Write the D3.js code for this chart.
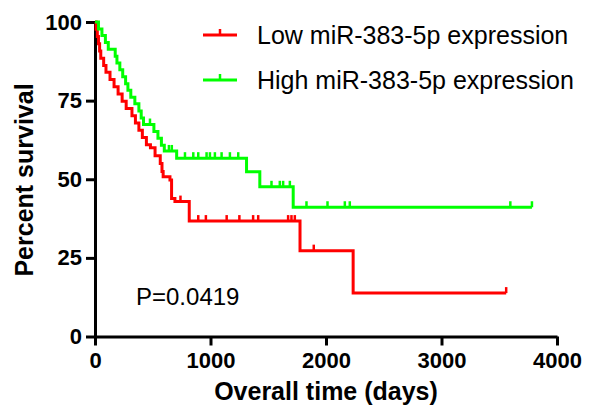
<!DOCTYPE html>
<html>
<head>
<meta charset="utf-8">
<script src="https://cdn.jsdelivr.net/npm/d3@7"></script>
<style>
  body { margin: 0; background: #fff; }
  text { font-family: Arial, "Liberation Sans", sans-serif; }
</style>
</head>
<body>
<div id="chart"></div>
<script>
// Kaplan-Meier steps: [days, percent survival]
var lowSteps = [[0,100],[10,97.7],[20,95.4],[30,93.1],[40,90.8],[50,88.5],[75,86.2],[95,84.0],
  [130,81.7],[165,79.4],[200,77.1],[235,74.8],[270,72.5],[320,70.2],[350,67.9],[380,65.6],
  [410,63.3],[445,61.0],[480,60.0],[520,57.5],[565,55.0],[580,52.5],[590,50.8],[649,49.8],
  [663,43.9],[692,42.9],[816,36.7],[1775,27.3],[2235,13.8],[3560,13.8]];
var highSteps = [[0,100],[30,97.8],[60,95.7],[90,93.5],[115,91.3],[175,89.1],[190,87.0],
  [215,84.8],[240,82.6],[265,80.4],[285,78.3],[310,76.1],[345,74.0],[380,71.7],[400,69.5],
  [420,67.4],[510,65.2],[545,63.0],[575,60.8],[600,59.0],[707,56.7],[1312,52.4],[1427,47.6],
  [1716,41.1],[3783,41.1]];

// censored observations (days, percent)
var lowCensor = [[740,42.9],[894,36.7],[960,36.7],[1140,36.7],[1250,36.7],[1369,36.7],[1413,36.7],
  [1672,36.7],[1701,36.7],[1730,36.7],[1894,27.3],[3560,13.8]];
var highCensor = [[476,67.4],[640,59.0],[665,59.0],[779,56.7],[851,56.7],[894,56.7],[966,56.7],
  [995,56.7],[1038,56.7],[1096,56.7],[1168,56.7],[1240,56.7],[1528,47.6],[1600,47.6],[1629,47.6],
  [1687,47.6],[1831,41.1],[2013,41.1],[2163,41.1],[2206,41.1],[3596,41.1],[3783,41.1]];

var xTicks = [0, 1000, 2000, 3000, 4000];
var yTicks = [0, 25, 50, 75, 100];
var seriesNames = ["Low miR-383-5p expression", "High miR-383-5p expression"];
var seriesColors = ["#ff0000", "#00ff00"];

var width = 590,
    height = 413;

var svg = d3.select("#chart")
            .append("svg")
              .attr("width", width)
              .attr("height", height);

var x = d3.scaleLinear().domain([0, 4000]).range([95, 557]);
var y = d3.scaleLinear().domain([0, 100]).range([336.5, 22]);

// axes
var yAxis = svg.append("g")
   .attr("transform", "translate(95,0)")
   .call(d3.axisLeft(y).tickValues(yTicks).tickSize(9).tickPadding(4).tickSizeOuter(0));
var xAxis = svg.append("g")
   .attr("transform", "translate(0,336.5)")
   .call(d3.axisBottom(x).tickValues(xTicks).tickFormat(d3.format("d"))
          .tickSize(9).tickPadding(7).tickSizeOuter(0));

[xAxis, yAxis].forEach(function(a) {
  a.select(".domain").attr("stroke", "#000").attr("stroke-width", 3);
  a.selectAll(".tick line").attr("stroke", "#000").attr("stroke-width", 3);
  a.selectAll(".tick text")
    .attr("fill", "#000")
    .style("font-size", "22px")
    .style("font-weight", "bold");
});

// curves
var line = d3.line()
             .x(function(d) { return x(d[0]); })
             .y(function(d) { return y(d[1]); })
             .curve(d3.curveStepAfter);

[lowSteps, highSteps].forEach(function(data, i) {
  svg.append("path")
     .datum(data)
     .attr("fill", "none")
     .attr("stroke", seriesColors[i])
     .attr("stroke-width", 3)
     .attr("d", line);
});

[lowCensor, highCensor].forEach(function(data, i) {
  svg.selectAll(".censor" + i)
     .data(data)
     .enter()
     .append("line")
       .attr("x1", function(d) { return x(d[0]); })
       .attr("x2", function(d) { return x(d[0]); })
       .attr("y1", function(d) { return y(d[1]); })
       .attr("y2", function(d) { return y(d[1]) - 6; })
       .attr("stroke", seriesColors[i])
       .attr("stroke-width", 2.5);
});

// legend
var legend = svg.selectAll(".legend")
                .data(seriesNames)
                .enter()
                .append("g")
                  .attr("transform", function(d, i) { return "translate(203," + (35 + i * 45) + ")"; });
legend.append("line")
      .attr("x1", 0).attr("x2", 34).attr("y1", 0).attr("y2", 0)
      .attr("stroke", function(d, i) { return seriesColors[i]; })
      .attr("stroke-width", 3);
legend.append("line")
      .attr("x1", 17).attr("x2", 17).attr("y1", 0).attr("y2", -6)
      .attr("stroke", function(d, i) { return seriesColors[i]; })
      .attr("stroke-width", 2.5);
legend.append("text")
      .attr("x", 54)
      .attr("y", 9)
      .style("font-size", "25px")
      .text(function(d) { return d; });

// titles
svg.append("text")
   .attr("x", 326)
   .attr("y", 400)
   .attr("text-anchor", "middle")
   .style("font-size", "25px")
   .style("font-weight", "bold")
   .text("Overall time (days)");

svg.append("text")
   .attr("transform", "translate(33,180) rotate(-90)")
   .attr("text-anchor", "middle")
   .style("font-size", "25px")
   .style("font-weight", "bold")
   .text("Percent survival");

svg.append("text")
   .attr("x", 136)
   .attr("y", 305)
   .style("font-size", "24px")
   .text("P=0.0419");
</script>
</body>
</html>
